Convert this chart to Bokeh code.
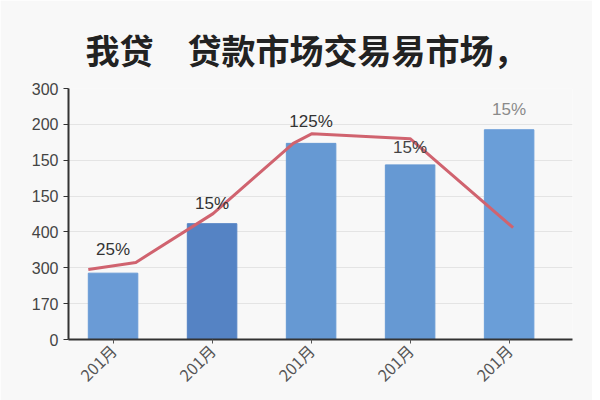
from bokeh.plotting import figure
from bokeh.models import ColumnDataSource, FixedTicker
from bokeh.core.properties import value
from bokeh.embed import file_html
from bokeh.resources import INLINE

# data (y in tick steps, the axis labels are as printed)
months = ["201月", "201月", "201月", "201月", "201月"]
bar_x = [1, 2, 3, 4, 5]
bar_top = [1.85, 3.23, 5.47, 4.87, 5.85]
bar_colors = ["#6a9bd6", "#5583c4", "#6699d3", "#6699d3", "#6a9ed8"]
pct_labels = ["25%", "15%", "125%", "15%", "15%"]
pct_y = [2.25, 3.52, 5.82, 5.1, 6.15]
pct_colors = ["#333333", "#333333", "#333333", "#444444", "#8a8a8a"]
line_x = [0.75, 1.23, 2.01, 2.82, 3.01, 4.0, 5.04]
line_y = [1.95, 2.15, 3.51, 5.47, 5.74, 5.6, 3.12]
y_tick_labels = ["0", "170", "300", "400", "150", "150", "200", "300"]

FONT = "Noto Sans CJK SC"

p = figure(width=592, height=400, output_backend="svg", toolbar_location=None,
           x_range=(0.55, 5.64), y_range=(0, 7.0),
           min_border_left=68, min_border_right=20, min_border_top=88, min_border_bottom=61,
           title="我贷　贷款市场交易易市场，")

p.background_fill_color = "#f8f8f8"
p.border_fill_color = "#f8f8f8"
p.outline_line_color = None

p.title.text_font = FONT
p.title.text_font_size = "34px"
p.title.text_font_style = "bold"
p.title.text_color = "#222222"
p.title.align = "left"
p.title.offset = 17
p.title.standoff = 30

src = ColumnDataSource(dict(x=bar_x, top=bar_top, color=bar_colors))
p.vbar(x="x", top="top", width=0.5, bottom=0, color="color", source=src)

p.line(line_x, line_y, color="#d0636f", line_width=3, line_join="round")

lbl = ColumnDataSource(dict(x=bar_x, y=pct_y, text=pct_labels, color=pct_colors))
p.text(x="x", y="y", text="text", source=lbl, text_align="center", text_baseline="bottom",
       text_font=value("Liberation Sans"), text_font_size="17px", text_color="color")

# y axis with the printed labels
p.yaxis.ticker = FixedTicker(ticks=list(range(len(y_tick_labels))))
p.yaxis.major_label_overrides = {i: t for i, t in enumerate(y_tick_labels)}
p.yaxis.major_label_text_font = "Liberation Sans"
p.yaxis.major_label_text_font_size = "16px"
p.yaxis.major_label_text_color = "#444444"
p.yaxis.axis_line_color = "#333333"
p.yaxis.axis_line_width = 2
p.yaxis.major_tick_line_color = "#333333"
p.yaxis.major_tick_out = 5
p.yaxis.major_tick_in = 0
p.yaxis.minor_tick_line_color = None

p.xaxis.ticker = FixedTicker(ticks=bar_x)
p.xaxis.major_label_overrides = {x: m for x, m in zip(bar_x, months)}
p.xaxis.major_label_orientation = 0.785
p.xaxis.major_label_text_font = FONT
p.xaxis.major_label_text_font_size = "16px"
p.xaxis.major_label_text_color = "#555555"
p.xaxis.major_label_standoff = 4
p.xaxis.axis_line_color = "#333333"
p.xaxis.axis_line_width = 2
p.xaxis.major_tick_line_color = "#555555"
p.xaxis.major_tick_out = 4
p.xaxis.major_tick_in = 0
p.xaxis.minor_tick_line_color = None

p.xgrid.grid_line_color = None
p.ygrid.ticker = FixedTicker(ticks=list(range(1, len(y_tick_labels))))
p.ygrid.grid_line_color = "#e4e4e4"

open("out.html", "w").write(file_html(p, INLINE))
